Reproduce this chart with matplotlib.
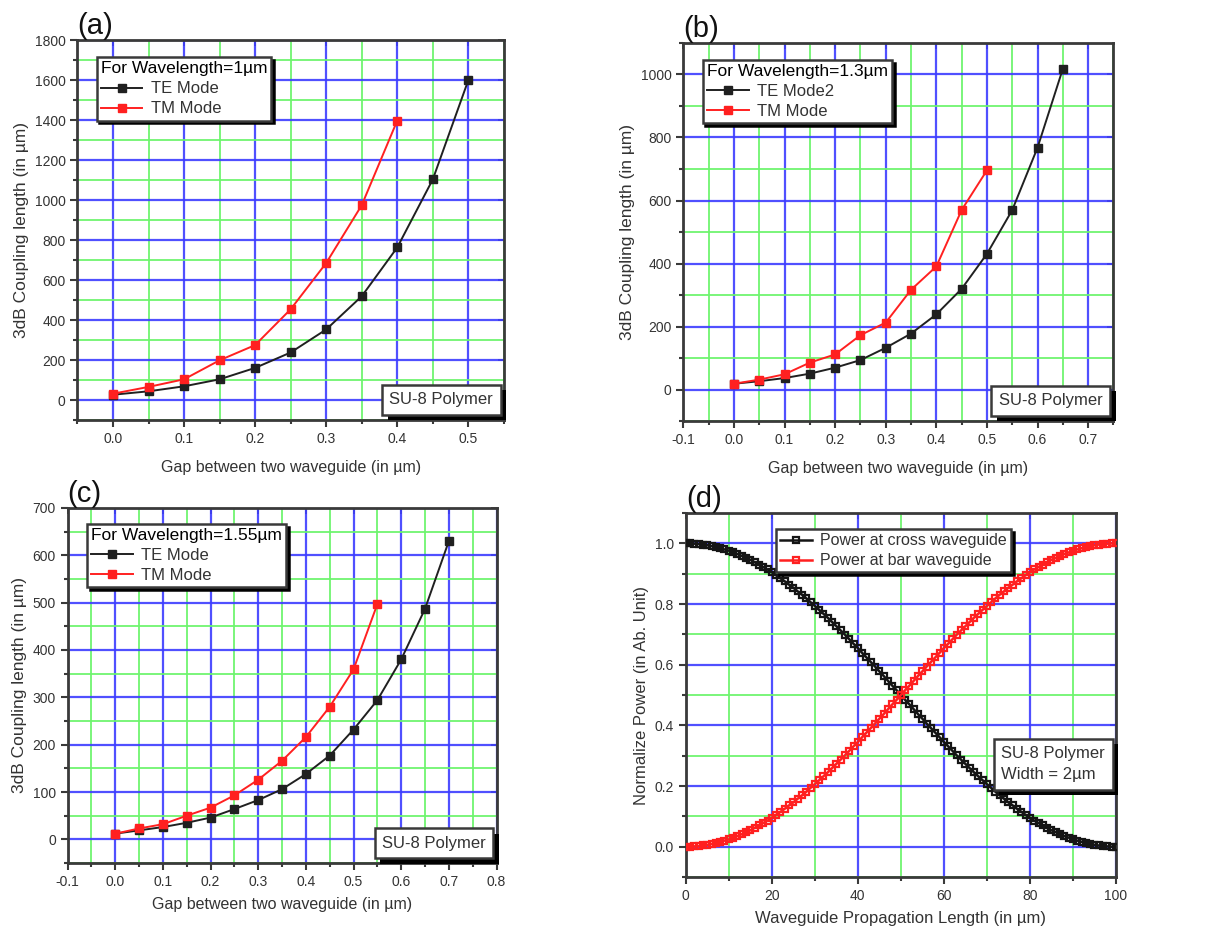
import matplotlib
matplotlib.use("Agg")
import matplotlib.pyplot as plt
import matplotlib.patheffects as pe
from matplotlib.ticker import MultipleLocator, FormatStrFormatter, NullLocator

# ---- data ----
# (a) wavelength 1 um
gap_a_te = [0.0, 0.05, 0.1, 0.15, 0.2, 0.25, 0.3, 0.35, 0.4, 0.45, 0.5]
len_a_te = [28, 45, 70, 105, 162, 239, 354, 520, 764, 1104, 1600]
gap_a_tm = [0.0, 0.05, 0.1, 0.15, 0.2, 0.25, 0.3, 0.35, 0.4]
len_a_tm = [33, 67, 105, 200, 276, 455, 686, 975, 1398]

# (b) wavelength 1.3 um
gap_b_te = [0.0, 0.05, 0.1, 0.15, 0.2, 0.25, 0.3, 0.35, 0.4, 0.45, 0.5, 0.55, 0.6, 0.65]
len_b_te = [19, 27, 37, 51, 70, 94, 133, 178, 239, 320, 431, 570, 768, 1018]
gap_b_tm = [0.0, 0.05, 0.1, 0.15, 0.2, 0.25, 0.3, 0.35, 0.4, 0.45, 0.5]
len_b_tm = [19, 32, 49, 86, 112, 173, 213, 317, 391, 570, 696]

# (c) wavelength 1.55 um
gap_c_te = [0.0, 0.05, 0.1, 0.15, 0.2, 0.25, 0.3, 0.35, 0.4, 0.45, 0.5, 0.55, 0.6, 0.65, 0.7]
len_c_te = [12, 19, 26, 35, 46, 64, 83, 106, 138, 177, 232, 294, 380, 487, 630]
gap_c_tm = [0.0, 0.05, 0.1, 0.15, 0.2, 0.25, 0.3, 0.35, 0.4, 0.45, 0.5, 0.55]
len_c_tm = [12, 23, 32, 50, 67, 93, 126, 166, 216, 280, 359, 497]

# (d) power exchange along the coupler
prop_len = list(range(0, 101))
power_cross = [
    1.000, 1.000, 0.999, 0.998, 0.996, 0.994, 0.991, 0.988, 0.984, 0.980,
    0.976, 0.970, 0.965, 0.959, 0.952, 0.946, 0.938, 0.930, 0.922, 0.914,
    0.905, 0.895, 0.885, 0.875, 0.864, 0.854, 0.842, 0.831, 0.819, 0.806,
    0.794, 0.781, 0.768, 0.755, 0.741, 0.727, 0.713, 0.699, 0.684, 0.669,
    0.655, 0.639, 0.624, 0.609, 0.594, 0.578, 0.563, 0.547, 0.531, 0.516,
    0.500, 0.484, 0.469, 0.453, 0.437, 0.422, 0.406, 0.391, 0.376, 0.361,
    0.345, 0.331, 0.316, 0.301, 0.287, 0.273, 0.259, 0.245, 0.232, 0.219,
    0.206, 0.194, 0.181, 0.169, 0.158, 0.146, 0.136, 0.125, 0.115, 0.105,
    0.095, 0.086, 0.078, 0.070, 0.062, 0.054, 0.048, 0.041, 0.035, 0.030,
    0.024, 0.020, 0.016, 0.012, 0.009, 0.006, 0.004, 0.002, 0.001, 0.000,
    0.000,
]
power_bar = [
    0.000, 0.000, 0.001, 0.002, 0.004, 0.006, 0.009, 0.012, 0.016, 0.020,
    0.024, 0.030, 0.035, 0.041, 0.048, 0.054, 0.062, 0.070, 0.078, 0.086,
    0.095, 0.105, 0.115, 0.125, 0.136, 0.146, 0.158, 0.169, 0.181, 0.194,
    0.206, 0.219, 0.232, 0.245, 0.259, 0.273, 0.287, 0.301, 0.316, 0.331,
    0.345, 0.361, 0.376, 0.391, 0.406, 0.422, 0.437, 0.453, 0.469, 0.484,
    0.500, 0.516, 0.531, 0.547, 0.563, 0.578, 0.594, 0.609, 0.624, 0.639,
    0.655, 0.669, 0.684, 0.699, 0.713, 0.727, 0.741, 0.755, 0.768, 0.781,
    0.794, 0.806, 0.819, 0.831, 0.842, 0.854, 0.864, 0.875, 0.885, 0.895,
    0.905, 0.914, 0.922, 0.930, 0.938, 0.946, 0.952, 0.959, 0.965, 0.970,
    0.976, 0.980, 0.984, 0.988, 0.991, 0.994, 0.996, 0.998, 0.999, 1.000,
    1.000,
]

BLUE = "#3d3dff"
GREEN = "#6cf46c"
SPINE = "#3a3a3a"
TXT = "#333333"

plt.rcParams["font.family"] = ["Liberation Sans", "DejaVu Sans"]

fig = plt.figure(figsize=(12.29, 9.32), dpi=100)


def style_axes(ax, xmaj, xmin, ymaj, ymin, xlim, ylim):
    ax.set_xlim(*xlim)
    ax.set_ylim(*ylim)
    ax.xaxis.set_major_locator(MultipleLocator(xmaj))
    ax.xaxis.set_minor_locator(MultipleLocator(xmin))
    ax.yaxis.set_major_locator(MultipleLocator(ymaj))
    ax.yaxis.set_minor_locator(MultipleLocator(ymin))
    ax.grid(which="major", color=BLUE, lw=1.6, alpha=0.9, zorder=0)
    ax.grid(which="minor", color=GREEN, lw=1.4, alpha=0.9, zorder=0)
    ax.set_axisbelow(True)
    for s in ax.spines.values():
        s.set_color(SPINE)
        s.set_linewidth(2.0)
    ax.tick_params(which="both", direction="out", color=SPINE, width=1.5,
                   labelsize=10, labelcolor=TXT, top=False, right=False)
    ax.tick_params(which="major", length=5)
    ax.tick_params(which="minor", length=3)
    # small inward ticks on the top and right frame
    top = ax.secondary_xaxis("top")
    top.xaxis.set_major_locator(MultipleLocator(xmaj))
    top.xaxis.set_minor_locator(NullLocator())
    top.tick_params(direction="in", length=4, width=1.3, labeltop=False, color=SPINE)
    top.spines["top"].set_visible(False)
    right = ax.secondary_yaxis("right")
    right.yaxis.set_major_locator(MultipleLocator(ymaj))
    right.yaxis.set_minor_locator(NullLocator())
    right.tick_params(direction="in", length=4, width=1.3, labelright=False, color=SPINE)
    right.spines["right"].set_visible(False)


def shadow_box(ax, text, x, y):
    t = ax.text(x, y, text, transform=ax.transAxes, ha="right", va="bottom",
                multialignment="left", fontsize=12, color=TXT, zorder=6,
                linespacing=1.5,
                bbox=dict(boxstyle="square,pad=0.45", fc="white", ec=SPINE, lw=1.8))
    t.get_bbox_patch().set_path_effects([
        pe.SimplePatchShadow(offset=(4, -4), shadow_rgbFace="black", alpha=1.0),
        pe.Normal()])
    return t


def shadow_legend(ax, title, loc, anchor, size=12, hlen=2.5):
    leg = ax.legend(title=title, loc=loc, bbox_to_anchor=anchor, fontsize=size,
                    title_fontsize=size + 0.5, fancybox=False, framealpha=1,
                    edgecolor=SPINE, borderpad=0.25, labelspacing=0.3,
                    handlelength=hlen, handletextpad=0.5, borderaxespad=0,
                    shadow={"color": "black", "alpha": 1.0})
    leg.get_frame().set_linewidth(1.8)
    if title:
        leg._legend_box.align = "left"
    for t in leg.get_texts():
        t.set_color(TXT)
    leg.set_zorder(7)
    return leg


def coupling_panel(rect, label, xte, yte, xtm, ytm, te_name, title, xlim, ylim, ymaj):
    ax = fig.add_axes(rect)
    style_axes(ax, 0.1, 0.05, ymaj, ymaj / 2, xlim, ylim)
    ax.plot(xte, yte, "-s", color="#202020", lw=1.4, ms=6, label=te_name, zorder=3)
    ax.plot(xtm, ytm, "-s", color="#ff2020", lw=1.4, ms=6, label="TM Mode", zorder=4)
    ax.set_xlabel("Gap between two waveguide (in \u00b5m)", fontsize=11.5, color=TXT,
                  labelpad=10)
    ax.set_ylabel("3dB Coupling length (in \u00b5m)", fontsize=12.5, color=TXT)
    ax.xaxis.set_major_formatter(FormatStrFormatter("%.1f"))
    shadow_legend(ax, title, "upper left", (0.045, 0.955))
    shadow_box(ax, "SU-8 Polymer", 0.975, 0.035)
    ax.text(0.0, 1.0, label, transform=ax.transAxes, fontsize=21, ha="left",
            va="bottom", color="#111111")
    return ax


ax_a = coupling_panel([0.063, 0.549, 0.347, 0.408], "(a)", gap_a_te, len_a_te,
                      gap_a_tm, len_a_tm, "TE Mode", "For Wavelength=1\u00b5m",
                      (-0.05, 0.55), (-100, 1800), 200)

ax_b = coupling_panel([0.556, 0.548, 0.350, 0.406], "(b)", gap_b_te, len_b_te,
                      gap_b_tm, len_b_tm, "TE Mode2", "For Wavelength=1.3\u00b5m",
                      (-0.1, 0.75), (-100, 1100), 200)

ax_c = coupling_panel([0.055, 0.074, 0.349, 0.381], "(c)", gap_c_te, len_c_te,
                      gap_c_tm, len_c_tm, "TE Mode", "For Wavelength=1.55\u00b5m",
                      (-0.1, 0.8), (-50, 700), 100)
ax_c.set_xlabel("Gap between two waveguide (in \u00b5m)", fontsize=11.5, color=TXT,
                labelpad=6)

# (d)
ax_d = fig.add_axes([0.558, 0.059, 0.350, 0.3905])
style_axes(ax_d, 20, 10, 0.2, 0.1, (0, 100), (-0.1, 1.1))
ax_d.plot(prop_len, power_cross, "-s", color="#151515", lw=1.8, ms=5,
          mfc="none", mew=1.6, label="Power at cross waveguide", zorder=3)
ax_d.plot(prop_len, power_bar, "-s", color="#ff2020", lw=1.8, ms=5,
          mfc="none", mew=1.6, label="Power at bar waveguide", zorder=4)
ax_d.yaxis.set_major_formatter(FormatStrFormatter("%.1f"))
ax_d.set_xlabel("Waveguide Propagation Length (in \u00b5m)", fontsize=12, color=TXT,
                labelpad=6)
ax_d.set_ylabel("Normalize Power (in Ab. Unit)", fontsize=12, color=TXT)
shadow_legend(ax_d, None, "upper left", (0.21, 0.955), size=11.5, hlen=2.0)
shadow_box(ax_d, "SU-8 Polymer\nWidth = 2\u00b5m", 0.975, 0.26)
ax_d.text(0.0, 1.0, "(d)", transform=ax_d.transAxes, fontsize=21, ha="left",
          va="bottom", color="#111111")

fig.savefig("out.png", dpi=100)
